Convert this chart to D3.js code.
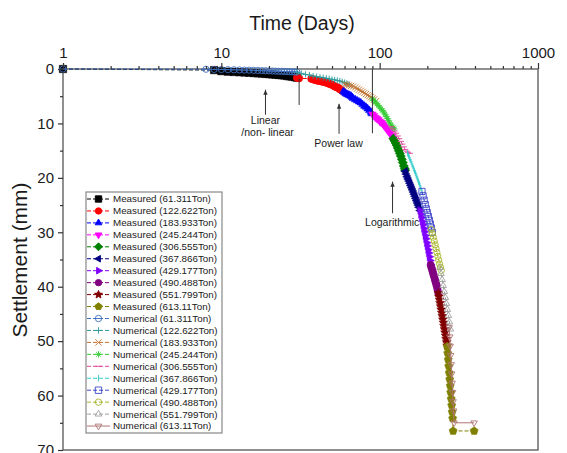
<!DOCTYPE html>
<html><head><meta charset="utf-8">
<script src="https://cdn.jsdelivr.net/npm/d3@7"></script>
<style>body{margin:0;background:#fff}svg{display:block}text{font-family:Arial,"Liberation Sans",sans-serif;fill:#1a1a1a}</style>
</head><body><svg id="c" width="567" height="453"></svg>
<script>
// ---------- DATA ----------
const timeTicks = [1, 10, 100, 1000];
const settlementTicks = [0, 10, 20, 30, 40, 50, 60, 70];

const measuredT61 = [1, 9, 10, 11, 12, 13, 14, 15, 16, 17, 18, 19, 20, 21, 22, 23, 24, 25, 26, 27, 28, 29, 30];
const measuredS61 = [0, 0.2, 0.4, 0.5, 0.55, 0.6, 0.65, 0.7, 0.75, 0.8, 0.85, 0.9, 0.95, 1.0, 1.05, 1.1, 1.15, 1.2, 1.3, 1.35, 1.4, 1.5, 1.6];
const measuredT122 = [30, 31, 37, 38, 39, 40, 41, 42, 43, 44, 45, 46, 47, 48, 49, 50, 51, 52, 53, 54, 55, 56, 57, 58];
const measuredS122 = [1.6, 1.7, 1.8, 1.9, 2.0, 2.1, 2.15, 2.2, 2.3, 2.35, 2.4, 2.5, 2.6, 2.7, 2.8, 2.9, 3.0, 3.2, 3.3, 3.4, 3.5, 3.7, 3.8, 4.0];
const measuredT184 = [59, 60, 61, 62, 63, 64, 65, 66, 67, 68, 70, 72, 74, 76, 78, 80, 82, 84, 86, 88, 89];
const measuredS184 = [4.1, 4.3, 4.5, 4.6, 4.7, 4.8, 4.9, 5.0, 5.2, 5.4, 5.6, 5.8, 6.0, 6.2, 6.5, 6.8, 7.0, 7.3, 7.6, 7.9, 8.2];
const measuredT245 = [90, 92, 94, 96, 98, 100, 102, 104, 106, 108, 110, 112, 114, 116, 118, 120, 122];
const measuredS245 = [8.3, 8.6, 8.9, 9.1, 9.3, 9.6, 9.8, 10.0, 10.3, 10.6, 10.9, 11.2, 11.5, 11.8, 12.1, 12.4, 12.8];
const measuredT307 = [122, 124, 126, 128, 130, 132, 134, 136, 138, 140, 142, 144, 145];
const measuredS307 = [12.8, 13.2, 13.6, 14.0, 14.5, 15.0, 15.5, 16.0, 16.6, 17.2, 17.8, 18.3, 18.6];
const measuredT368 = [145, 147, 149, 151, 153, 155, 157, 159, 161, 163, 165, 167, 169, 171, 173, 175, 177, 180];
const measuredS368 = [18.8, 19.3, 19.8, 20.2, 20.6, 21.0, 21.4, 21.8, 22.2, 22.6, 23.0, 23.4, 23.8, 24.2, 24.6, 25.0, 25.4, 26.0];
const measuredT429 = [180, 182, 184, 186, 188, 190, 192, 194, 196, 198, 200, 202, 204, 206, 208, 210];
const measuredS429 = [26.0, 26.7, 27.3, 28.0, 28.6, 29.3, 29.9, 30.6, 31.2, 31.9, 32.5, 33.2, 33.8, 34.5, 35.2, 36.0];
const measuredT490 = [210, 212, 214, 216, 218, 220, 222, 224, 226, 228, 230, 232, 235];
const measuredS490 = [36.0, 36.4, 36.8, 37.2, 37.6, 38.0, 38.4, 38.8, 39.2, 39.6, 40.0, 40.5, 41.2];
const measuredT552 = [235, 237, 239, 241, 243, 245, 247, 249, 251, 253, 255, 257, 259, 261, 263, 265, 267];
const measuredS552 = [41.2, 41.8, 42.4, 43.0, 43.6, 44.2, 44.8, 45.4, 46.0, 46.6, 47.2, 47.8, 48.4, 49.0, 49.6, 50.2, 50.8];
const measuredT613 = [267, 269, 271, 273, 275, 277, 279, 281, 283, 285, 287, 289, 291, 395];
const measuredS613 = [51.0, 52.2, 53.4, 54.6, 55.8, 57.0, 58.2, 59.4, 60.6, 61.8, 63.0, 64.2, 66.5, 66.5];

const numericalT61 = [1, 8, 9, 10, 11, 12, 13, 14, 15, 16, 17, 18, 19, 20, 21, 22, 23, 24, 25, 26, 27, 28, 29, 30];
const numericalS61 = [0, 0.05, 0.08, 0.1, 0.12, 0.15, 0.17, 0.2, 0.22, 0.25, 0.27, 0.3, 0.32, 0.35, 0.37, 0.4, 0.42, 0.44, 0.46, 0.48, 0.5, 0.52, 0.54, 0.56];
const numericalT122 = [30, 32, 34, 36, 38, 40, 42, 44, 46, 48, 50, 52, 54, 56, 58, 60, 62, 64];
const numericalS122 = [0.6, 0.8, 1.0, 1.1, 1.3, 1.4, 1.5, 1.6, 1.7, 1.8, 1.9, 2.0, 2.1, 2.2, 2.35, 2.5, 2.65, 2.8];
const numericalT184 = [60, 62, 64, 66, 68, 70, 72, 74, 76, 78, 80, 82, 84, 86, 88, 90, 92, 95];
const numericalS184 = [2.8, 2.9, 3.0, 3.1, 3.2, 3.4, 3.6, 3.8, 4.0, 4.2, 4.4, 4.6, 4.8, 5.0, 5.2, 5.4, 5.6, 5.9];
const numericalT245 = [90, 92, 94, 96, 98, 100, 102, 104, 106, 108, 110, 112, 114, 116, 118, 120, 122, 124];
const numericalS245 = [5.5, 5.8, 6.1, 6.4, 6.7, 7.0, 7.3, 7.6, 7.9, 8.3, 8.7, 9.1, 9.5, 9.9, 10.3, 10.6, 10.8, 11.0];
const numericalT307 = [118, 121, 124, 127, 130, 133, 136, 139, 142, 145, 148, 151, 155];
const numericalS307 = [10.6, 11.0, 11.4, 11.8, 12.3, 12.8, 13.3, 13.8, 14.3, 14.8, 15.1, 15.3, 15.5];
const numericalT368 = [150, 152, 154, 156, 158, 160, 162, 164, 166, 168, 170, 172, 174, 176, 178, 180, 182, 185];
const numericalS368 = [15.5, 15.9, 16.3, 16.7, 17.1, 17.5, 17.9, 18.3, 18.7, 19.1, 19.5, 19.9, 20.3, 20.7, 21.1, 21.5, 21.9, 22.5];
const numericalT429 = [185, 188, 191, 194, 197, 200, 203, 206, 209, 212, 215];
const numericalS429 = [22.5, 23.3, 24.1, 24.9, 25.7, 26.4, 27.1, 27.8, 28.5, 29.2, 30.0];
const numericalT490 = [212, 215, 218, 221, 224, 227, 230, 233, 236, 239, 242, 245];
const numericalS490 = [29.5, 30.2, 30.9, 31.6, 32.3, 33.0, 33.7, 34.4, 35.1, 35.8, 36.4, 37.0];
const numericalT552 = [240, 244, 248, 252, 256, 260, 264, 268, 272, 276, 280];
const numericalS552 = [36.5, 37.6, 38.7, 39.8, 40.9, 42.0, 43.1, 44.2, 45.3, 46.5, 47.8];
const numericalT613 = [275, 277, 279, 281, 283, 285, 287, 289, 291, 293, 295, 395];
const numericalS613 = [47.5, 49.2, 50.9, 52.6, 54.3, 56.0, 57.7, 59.4, 61.1, 62.8, 65.0, 65.0];

const measuredLabels = ["Measured (61.311Ton)", "Measured (122.622Ton)", "Measured (183.933Ton)", "Measured (245.244Ton)", "Measured (306.555Ton)", "Measured (367.866Ton)", "Measured (429.177Ton)", "Measured (490.488Ton)", "Measured (551.799Ton)", "Measured (613.11Ton)"];
const numericalLabels = ["Numerical (61.311Ton)", "Numerical (122.622Ton)", "Numerical (183.933Ton)", "Numerical (245.244Ton)", "Numerical (306.555Ton)", "Numerical (367.866Ton)", "Numerical (429.177Ton)", "Numerical (490.488Ton)", "Numerical (551.799Ton)", "Numerical (613.11Ton)"];

const annotationLines = [ // [time, settlementFrom, settlementTo, arrow]
  [31, 1.8, 6.6, false], [90, 0, 11.8, false], [19, 8.4, 3.8, true], [55.4, 11.9, 6.4, true], [120.6, 26.5, 20.7, true]
];
const annotationTexts = [["Linear", 19, 10.1], ["/non- linear", 19.6, 12.4], ["Power law", 55, 14.3], ["Logarithmic", 120, 28.9]];

// ---------- STYLE ----------
const measuredT = [measuredT61, measuredT122, measuredT184, measuredT245, measuredT307, measuredT368, measuredT429, measuredT490, measuredT552, measuredT613];
const measuredS = [measuredS61, measuredS122, measuredS184, measuredS245, measuredS307, measuredS368, measuredS429, measuredS490, measuredS552, measuredS613];
const numericalT = [numericalT61, numericalT122, numericalT184, numericalT245, numericalT307, numericalT368, numericalT429, numericalT490, numericalT552, numericalT613];
const numericalS = [numericalS61, numericalS122, numericalS184, numericalS245, numericalS307, numericalS368, numericalS429, numericalS490, numericalS552, numericalS613];
const mColors = ["#000000", "#ff0000", "#0000ff", "#ff00ff", "#008000", "#000080", "#8000ff", "#800080", "#800000", "#808000"];
const mShapes = ["square", "circle", "triUp", "triDown", "diamond", "triLeft", "triRight", "circle", "star", "pentagon"];
const nColors = ["#3f6fc0", "#2a9a9a", "#c07030", "#33cc33", "#e0449a", "#33cccc", "#3c46c8", "#a8b428", "#a0a0a0", "#b07474"];
const nShapes = ["circleBar", "plus", "cross", "asterisk", "dash", "vbar", "square", "circle", "triUp", "triDown"];

function poly(n, r, rot, inner) {
  const pts = [];
  const k = inner ? 2 * n : n;
  for (let i = 0; i < k; i++) {
    const a = rot + i * Math.PI * 2 / k;
    const rr = inner && i % 2 ? r * inner : r;
    pts.push([rr * Math.sin(a), -rr * Math.cos(a)]);
  }
  return "M" + pts.map(p => p[0].toFixed(2) + "," + p[1].toFixed(2)).join("L") + "Z";
}
function shapePath(type, r) {
  switch (type) {
    case "square": return `M${-r},${-r}h${2*r}v${2*r}h${-2*r}Z`;
    case "circle": return `M${r},0A${r},${r} 0 1,1 ${-r},0A${r},${r} 0 1,1 ${r},0Z`;
    case "circleBar": return `M${r},0A${r},${r} 0 1,1 ${-r},0A${r},${r} 0 1,1 ${r},0ZM${-r},0H${r}`;
    case "triUp": return poly(3, r * 1.2, 0);
    case "triDown": return poly(3, r * 1.2, Math.PI);
    case "triLeft": return poly(3, r * 1.2, -Math.PI / 2);
    case "triRight": return poly(3, r * 1.2, Math.PI / 2);
    case "diamond": return poly(4, r * 1.25, 0);
    case "star": return poly(5, r * 1.3, 0, 0.45);
    case "pentagon": return poly(5, r * 1.15, 0);
    case "plus": return `M${-r},0H${r}M0,${-r}V${r}`;
    case "cross": return `M${-r},${-r}L${r},${r}M${-r},${r}L${r},${-r}`;
    case "asterisk": return `M${-r},0H${r}M0,${-r}V${r}M${-r*0.7},${-r*0.7}L${r*0.7},${r*0.7}M${-r*0.7},${r*0.7}L${r*0.7},${-r*0.7}`;
    case "dash": return `M${-r},0H${r}`;
    case "vbar": return `M0,${-r}V${r}`;
  }
}

const svg = d3.select("#c");
const x = d3.scaleLog().domain([1, 1000]).range([63, 538]);
const y = d3.scaleLinear().domain([0, 70]).range([69, 450]);

// frame
svg.append("rect").attr("x", 63).attr("y", 69).attr("width", 475).attr("height", 381)
  .attr("fill", "none").attr("stroke", "#555").attr("stroke-width", 1.3);

const plot = svg.append("g");
const line = d3.line().x(d => x(d[0])).y(d => y(d[1]));

function drawSeries(T, S, color, shape, filled, dash, r) {
  const pts = T.map((t, i) => [t, S[i]]);
  plot.append("path").attr("d", line(pts)).attr("fill", "none").attr("stroke", color)
    .attr("stroke-width", 1).attr("stroke-dasharray", dash);
  plot.selectAll(null).data(pts).enter().append("path")
    .attr("transform", d => `translate(${x(d[0])},${y(d[1])})`)
    .attr("d", shapePath(shape, r))
    .attr("fill", filled ? color : "none").attr("stroke", color).attr("stroke-width", filled ? 0.5 : 0.9);
}
for (let i = 0; i < 10; i++) drawSeries(measuredT[i], measuredS[i], mColors[i], mShapes[i], true, "4,2", 3.7);
for (let i = 0; i < 10; i++) drawSeries(numericalT[i], numericalS[i], nColors[i], nShapes[i], false, i === 9 ? null : "4,2", 3.1);

// axes
const minorX = [];
[1, 10, 100].forEach(dec => { for (let k = 2; k <= 9; k++) minorX.push(dec * k); });
const gx = svg.append("g").attr("transform", "translate(0,69)");
gx.call(d3.axisTop(x).tickValues(minorX).tickSize(3).tickFormat(""));
gx.append("g").call(d3.axisTop(x).tickValues(timeTicks).tickSize(6).tickPadding(5).tickFormat(d3.format("d")));
const gy = svg.append("g").attr("transform", "translate(63,0)");
gy.call(d3.axisLeft(y).tickValues(d3.range(5, 70, 10)).tickSize(3).tickFormat(""));
gy.append("g").call(d3.axisLeft(y).tickValues(settlementTicks).tickSize(5).tickPadding(4));
svg.selectAll(".domain").remove();
svg.selectAll(".tick line").attr("stroke", "#333").attr("stroke-width", 1.2);
svg.selectAll(".tick text").attr("font-size", 15).attr("fill", "#1a1a1a").attr("font-family", "Arial, 'Liberation Sans', sans-serif");

svg.append("text").attr("x", 302).attr("y", 30).attr("text-anchor", "middle").attr("font-size", 19.5).text("Time (Days)");
svg.append("text").attr("transform", "translate(27,260) rotate(-90)").attr("text-anchor", "middle").attr("font-size", 21).text("Settlement (mm)");

// annotations
annotationLines.forEach(a => {
  const xx = x(a[0]), y1 = y(a[1]), y2 = y(a[2]);
  svg.append("line").attr("x1", xx).attr("x2", xx).attr("y1", y1).attr("y2", y2).attr("stroke", "#333").attr("stroke-width", 1);
  if (a[3]) svg.append("path").attr("d", `M${xx},${y2}l-2.2,5h4.4Z`).attr("fill", "#333");
});
annotationTexts.forEach(a => {
  svg.append("text").attr("x", x(a[1])).attr("y", y(a[2])).attr("text-anchor", "middle")
    .attr("font-size", 10.5).attr("font-family", "'Open Sans', Arial, sans-serif").text(a[0]);
});

// legend
const lg = svg.append("g");
lg.append("rect").attr("x", 86).attr("y", 192).attr("width", 136).attr("height", 241)
  .attr("fill", "#fff").attr("stroke", "#888").attr("stroke-width", 1.2);
const legendItems = [];
for (let i = 0; i < 10; i++) legendItems.push({label: measuredLabels[i], color: mColors[i], shape: mShapes[i], filled: true, dash: "4,2"});
for (let i = 0; i < 10; i++) legendItems.push({label: numericalLabels[i], color: nColors[i], shape: nShapes[i], filled: false, dash: i === 9 ? null : "4,2"});
legendItems.forEach((it, i) => {
  const cy = 199 + i * 11.95;
  lg.append("line").attr("x1", 87).attr("x2", 110).attr("y1", cy).attr("y2", cy)
    .attr("stroke", it.color).attr("stroke-width", 1).attr("stroke-dasharray", it.dash);
  lg.append("path").attr("transform", `translate(98.5,${cy})`).attr("d", shapePath(it.shape, 3.2))
    .attr("fill", it.filled ? it.color : "none").attr("stroke", it.color).attr("stroke-width", 0.9);
  lg.append("text").attr("x", 113).attr("y", cy).attr("dy", "0.35em").attr("font-size", 9.8).text(it.label);
});
</script></body></html>
